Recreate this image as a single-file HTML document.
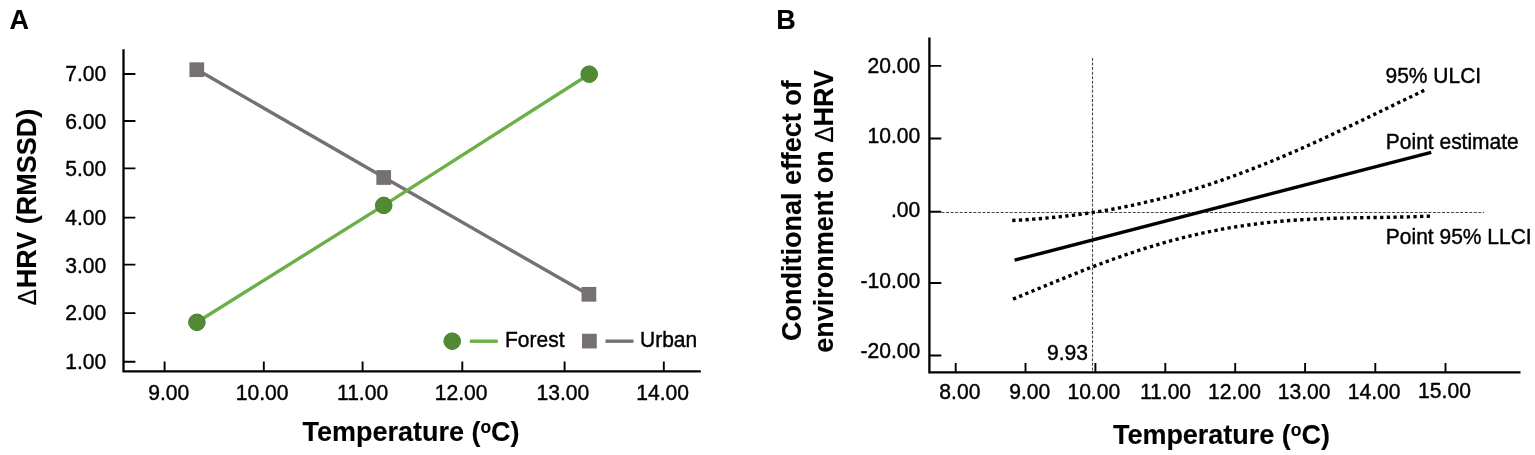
<!DOCTYPE html>
<html lang="en"><head><meta charset="utf-8"><title>Figure</title>
<style>
html,body{margin:0;padding:0;background:#fff;}
body{width:1535px;height:455px;overflow:hidden;}
svg{display:block;}
text{font-family:"Liberation Sans",Arial,Helvetica,sans-serif;fill:#000;stroke:#000;stroke-linejoin:round;}
.b{font-weight:bold;font-size:27px;stroke-width:0.12;}
.t{font-size:21.1px;stroke-width:0.4;}
.dlt{font-weight:normal;font-size:24.5px;stroke-width:0.2;}
.deg{font-size:17.5px;}
.ax{stroke:#000;stroke-width:2.3;fill:none;}
.tk{stroke:#000;stroke-width:1.9;fill:none;}
.dl{stroke:#000;fill:none;}
.gl{stroke:#4a4a4a;stroke-width:1.1;stroke-dasharray:3 1.55;fill:none;}
</style></head>
<body>
<svg width="1535" height="455" viewBox="0 0 1535 455">
<rect width="1535" height="455" fill="#fff"/>
<g id="panel-a">
<text class="b" transform="translate(9.5 28.8) scale(1 1.03)">A</text>
<path class="ax" d="M123.5 49.2V371.3H700.8"/>
<path class="tk" d="M123.5 74H135.4M123.5 121H135.4M123.5 168.4H135.4M123.5 217.6H135.4M123.5 264.6H135.4M123.5 313.1H135.4M123.5 361.7H135.4"/>
<path class="tk" d="M164.6 371.3V361.6M263.8 371.3V361.6M362.6 371.3V361.6M462.3 371.3V361.6M564.6 371.3V361.6M663.8 371.3V361.6"/>
<text class="t" transform="translate(106.2 81.3) scale(1 1.05)" text-anchor="end">7.00</text>
<text class="t" transform="translate(106.2 128.5) scale(1 1.05)" text-anchor="end">6.00</text>
<text class="t" transform="translate(106.2 175.9) scale(1 1.05)" text-anchor="end">5.00</text>
<text class="t" transform="translate(106.2 224.9) scale(1 1.05)" text-anchor="end">4.00</text>
<text class="t" transform="translate(106.2 272.5) scale(1 1.05)" text-anchor="end">3.00</text>
<text class="t" transform="translate(106.2 320.4) scale(1 1.05)" text-anchor="end">2.00</text>
<text class="t" transform="translate(106.2 369) scale(1 1.05)" text-anchor="end">1.00</text>
<text class="t" transform="translate(189.3 400) scale(1 1.05)" text-anchor="end">9.00</text>
<text class="t" transform="translate(288.5 400) scale(1 1.05)" text-anchor="end">10.00</text>
<text class="t" transform="translate(388.2 400) scale(1 1.05)" text-anchor="end">11.00</text>
<text class="t" transform="translate(487.5 400) scale(1 1.05)" text-anchor="end">12.00</text>
<text class="t" transform="translate(589.3 400) scale(1 1.05)" text-anchor="end">13.00</text>
<text class="t" transform="translate(689 400) scale(1 1.05)" text-anchor="end">14.00</text>
<path d="M196.8 69.5L383.7 177.3L588.9 294.8" stroke="#767070" stroke-width="3.4" fill="none"/>
<path d="M196.9 322.3L383.7 205.4L589.2 74.2" stroke="#6ab044" stroke-width="3.4" fill="none"/>
<rect x="189.45" y="62.35" width="14.7" height="14.7" fill="#767070"/>
<rect x="376.35" y="170.15" width="14.7" height="14.7" fill="#767070"/>
<rect x="581.55" y="286.95" width="14.7" height="14.7" fill="#767070"/>
<rect x="582.05" y="333.75" width="14.7" height="14.7" fill="#767070"/>
<circle cx="196.9" cy="322.3" r="8.3" fill="#528a33" stroke="#4b802d" stroke-width="1"/>
<circle cx="383.7" cy="205.4" r="8.3" fill="#528a33" stroke="#4b802d" stroke-width="1"/>
<circle cx="589.2" cy="74.2" r="8.3" fill="#528a33" stroke="#4b802d" stroke-width="1"/>
<circle cx="452.2" cy="341.2" r="8.3" fill="#528a33" stroke="#4b802d" stroke-width="1"/>
<path d="M469.8 341.2H497.8" stroke="#6ab044" stroke-width="3.4"/>
<path d="M605.5 341.2H633.5" stroke="#767070" stroke-width="3.4"/>
<text class="t" transform="translate(505 346.7) scale(1 1.05)" style="font-size:21px">Forest</text>
<text class="t" transform="translate(640 346.7) scale(1 1.05)" style="font-size:21px">Urban</text>
<text class="b" transform="translate(302.5 441.2) scale(1 1.03)">Temperature (<tspan class="deg" dy="-8">o</tspan><tspan dy="8">C)</tspan></text>
<text class="b" transform="translate(36.2 305.5) rotate(-90) scale(1 1.03)"><tspan class="dlt">Δ</tspan><tspan dx="0.9">HRV (RMSSD)</tspan></text>
</g>
<g id="panel-b">
<text class="b" transform="translate(776.3 28.8) scale(1 1.03)">B</text>
<path class="ax" d="M929.4 37.5V372.4H1520.5"/>
<path class="tk" d="M929.4 65.9H941.3M929.4 138.5H941.3M929.4 211.7H941.3M929.4 283H941.3M929.4 355.5H941.3"/>
<path class="tk" d="M955.7 372.4V363M1025.5 372.4V363M1095.4 372.4V363M1165.3 372.4V363M1235.2 372.4V363M1305.1 372.4V363M1375.3 372.4V363M1445.5 372.4V363"/>
<text class="t" transform="translate(920.3 72.5) scale(1 1.05)" text-anchor="end">20.00</text>
<text class="t" transform="translate(920.3 143) scale(1 1.05)" text-anchor="end">10.00</text>
<text class="t" transform="translate(920.3 217) scale(1 1.05)" text-anchor="end">.00</text>
<text class="t" transform="translate(920.3 288.1) scale(1 1.05)" text-anchor="end">-10.00</text>
<text class="t" transform="translate(920.3 358) scale(1 1.05)" text-anchor="end">-20.00</text>
<text class="t" transform="translate(980.4 399.3) scale(1 1.05)" text-anchor="end">8.00</text>
<text class="t" transform="translate(1050.3 399.3) scale(1 1.05)" text-anchor="end">9.00</text>
<text class="t" transform="translate(1120.2 399.3) scale(1 1.05)" text-anchor="end">10.00</text>
<text class="t" transform="translate(1191.1 399.3) scale(1 1.05)" text-anchor="end">11.00</text>
<text class="t" transform="translate(1260.9 399.3) scale(1 1.05)" text-anchor="end">12.00</text>
<text class="t" transform="translate(1330.5 399.3) scale(1 1.05)" text-anchor="end">13.00</text>
<text class="t" transform="translate(1400.5 399.3) scale(1 1.05)" text-anchor="end">14.00</text>
<text class="t" transform="translate(1470.9 397.8) scale(1 1.05)" text-anchor="end">15.00</text>
<path class="gl" d="M1092.5 58V371.3"/>
<path class="gl" d="M941.5 212.5H1484"/>
<path d="M1014.6 260.2L1431.2 152.3" stroke="#000" stroke-width="3.4" fill="none"/>
<path class="dl" style="stroke-width:3.4;stroke-dasharray:3.3 3.353" d="M1012.2 220.5L1022.8 219.9L1033.3 219.1L1043.9 218.3L1054.5 217.3L1065.0 216.2L1075.6 214.9L1086.1 213.5L1096.7 211.9L1107.3 210.1L1117.8 208.2L1128.4 206.1L1139.0 203.8L1149.5 201.4L1160.1 198.8L1170.7 196.0L1181.2 193.1L1191.8 189.9L1202.4 186.7L1212.9 183.2L1223.5 179.6L1234.0 175.8L1244.6 171.9L1255.2 167.8L1265.7 163.6L1276.3 159.3L1286.9 154.8L1297.4 150.2L1308.0 145.5L1318.6 140.7L1329.1 135.9L1339.7 130.9L1350.3 125.9L1360.8 120.9L1371.4 115.8L1381.9 110.7L1392.5 105.6L1403.1 100.5L1413.6 95.5L1424.2 90.4"/>
<path class="dl" style="stroke-width:3.4;stroke-dasharray:3.3 3.360" d="M1013.0 299.1L1023.7 294.7L1034.4 290.3L1045.1 285.9L1055.8 281.5L1066.5 277.1L1077.2 272.8L1087.8 268.6L1098.5 264.6L1109.2 260.6L1119.9 256.8L1130.6 253.1L1141.3 249.6L1152.0 246.3L1162.7 243.1L1173.4 240.1L1184.1 237.4L1194.8 234.8L1205.5 232.4L1216.2 230.3L1226.8 228.3L1237.5 226.5L1248.2 225.0L1258.9 223.6L1269.6 222.4L1280.3 221.3L1291.0 220.5L1301.7 219.7L1312.4 219.2L1323.1 218.7L1333.8 218.3L1344.5 218.0L1355.2 217.8L1365.8 217.6L1376.5 217.5L1387.2 217.3L1397.9 217.1L1408.6 216.9L1419.3 216.5L1430.0 216.1"/>
<text class="t" transform="translate(1385.5 83.2) scale(1 1.05)" style="font-size:21px">95% ULCI</text>
<text class="t" transform="translate(1385.8 148.5) scale(1 1.05)" style="font-size:21px">Point estimate</text>
<text class="t" transform="translate(1385.8 243.5) scale(1 1.05)" style="font-size:21px">Point 95% LLCI</text>
<text class="t" transform="translate(1047 360) scale(1 1.05)">9.93</text>
<text class="b" transform="translate(1112.9 444) scale(1 1.03)">Temperature (<tspan class="deg" dy="-8">o</tspan><tspan dy="8">C)</tspan></text>
<text class="b" transform="translate(800.5 341) rotate(-90) scale(1 1.03)">Conditional effect of</text>
<text class="b" transform="translate(833.2 352.7) rotate(-90) scale(1 1.03)">environment on <tspan class="dlt">Δ</tspan>HRV</text>
</g>
</svg>
</body></html>
